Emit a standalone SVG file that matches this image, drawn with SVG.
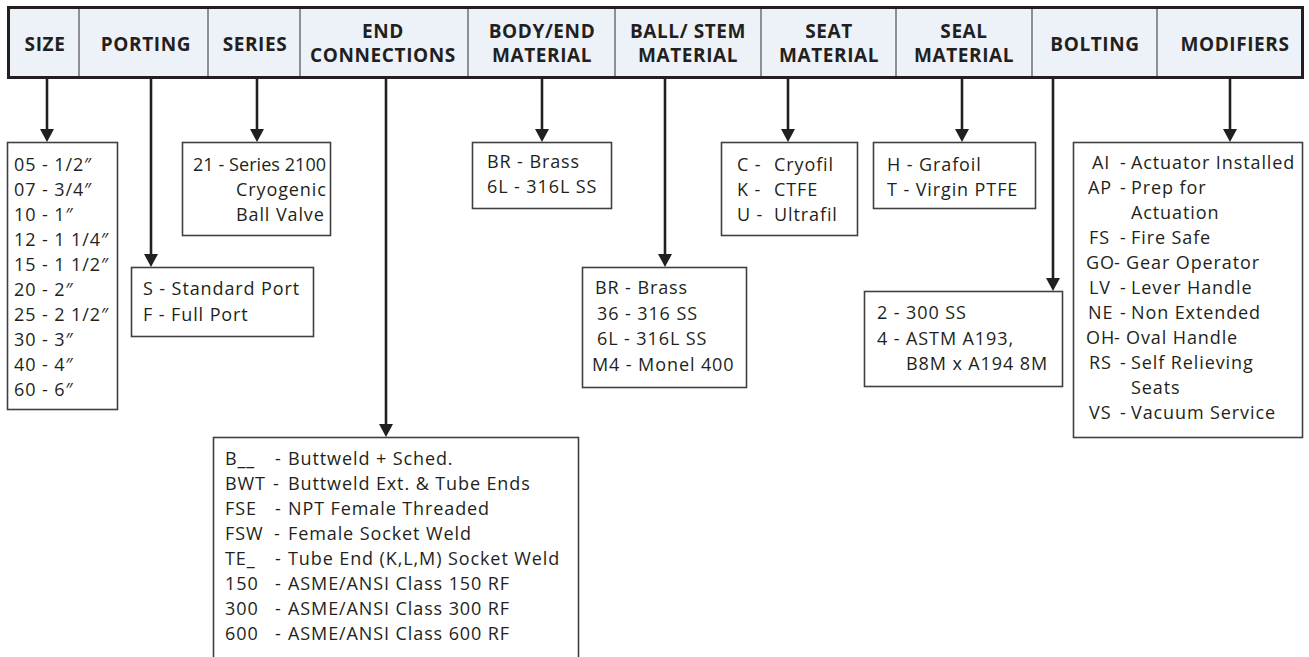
<svg xmlns="http://www.w3.org/2000/svg" width="1309" height="657" viewBox="0 0 1309 657">
<style>
.hd{font-family:"Open Sans","Liberation Sans",sans-serif;font-weight:bold;font-size:19px;letter-spacing:0.6px;fill:#231f20;text-anchor:middle}
.tx{font-family:"Open Sans","Liberation Sans",sans-serif;font-size:18px;letter-spacing:0.9px;fill:#231f20}
.box{fill:#fff;stroke:#404041;stroke-width:1.6}
.div{stroke:#6d6e71;stroke-width:1.5}
.con{stroke:#231f20;stroke-width:2.6;fill:none}
</style>
<defs>
<marker id="ah" markerUnits="userSpaceOnUse" markerWidth="13" markerHeight="14" viewBox="0 0 13 14" refX="3" refY="7" orient="auto">
<path d="M0,0 L13,7 L0,14 Z" fill="#231f20"/>
</marker>
</defs>
<rect width="1309" height="657" fill="#fff"/>
<g id="header">
<rect x="8.5" y="7.5" width="1294" height="70" fill="#edf1f8" stroke="#231f20" stroke-width="3"/>
<line class="div" x1="79" y1="9" x2="79" y2="76"/>
<line class="div" x1="208" y1="9" x2="208" y2="76"/>
<line class="div" x1="300" y1="9" x2="300" y2="76"/>
<line class="div" x1="468" y1="9" x2="468" y2="76"/>
<line class="div" x1="615" y1="9" x2="615" y2="76"/>
<line class="div" x1="761" y1="9" x2="761" y2="76"/>
<line class="div" x1="896" y1="9" x2="896" y2="76"/>
<line class="div" x1="1032" y1="9" x2="1032" y2="76"/>
<line class="div" x1="1157" y1="9" x2="1157" y2="76"/>
<text class="hd" x="45" y="51">SIZE</text>
<text class="hd" x="146" y="51">PORTING</text>
<text class="hd" x="255" y="51">SERIES</text>
<text class="hd" x="383" y="38">END</text>
<text class="hd" x="383" y="62">CONNECTIONS</text>
<text class="hd" x="542" y="38">BODY/END</text>
<text class="hd" x="542" y="62">MATERIAL</text>
<text class="hd" x="688" y="38">BALL/ STEM</text>
<text class="hd" x="688" y="62">MATERIAL</text>
<text class="hd" x="829" y="38">SEAT</text>
<text class="hd" x="829" y="62">MATERIAL</text>
<text class="hd" x="964" y="38">SEAL</text>
<text class="hd" x="964" y="62">MATERIAL</text>
<text class="hd" x="1095" y="51">BOLTING</text>
<text class="hd" x="1235" y="51">MODIFIERS</text>
</g>
<g id="connectors">
<line class="con" x1="47" y1="78" x2="47" y2="132" marker-end="url(#ah)"/>
<line class="con" x1="151" y1="78" x2="151" y2="257" marker-end="url(#ah)"/>
<line class="con" x1="257" y1="78" x2="257" y2="132" marker-end="url(#ah)"/>
<line class="con" x1="386" y1="78" x2="386" y2="427" marker-end="url(#ah)"/>
<line class="con" x1="542" y1="78" x2="542" y2="132" marker-end="url(#ah)"/>
<line class="con" x1="665" y1="78" x2="665" y2="257" marker-end="url(#ah)"/>
<line class="con" x1="788" y1="78" x2="788" y2="132" marker-end="url(#ah)"/>
<line class="con" x1="962" y1="78" x2="962" y2="132" marker-end="url(#ah)"/>
<line class="con" x1="1053" y1="78" x2="1053" y2="281" marker-end="url(#ah)"/>
<line class="con" x1="1230" y1="78" x2="1230" y2="132" marker-end="url(#ah)"/>
</g>
<g id="size">
<rect class="box" x="7.5" y="142.5" width="110" height="267"/>
<text class="tx" x="14" y="171">05 - 1/2″</text>
<text class="tx" x="14" y="196">07 - 3/4″</text>
<text class="tx" x="14" y="221">10 - 1″</text>
<text class="tx" x="14" y="246">12 - 1 1/4″</text>
<text class="tx" x="14" y="271">15 - 1 1/2″</text>
<text class="tx" x="14" y="296">20 - 2″</text>
<text class="tx" x="14" y="321">25 - 2 1/2″</text>
<text class="tx" x="14" y="346">30 - 3″</text>
<text class="tx" x="14" y="371">40 - 4″</text>
<text class="tx" x="14" y="396">60 - 6″</text>
</g>
<g id="porting">
<rect class="box" x="131.5" y="267.5" width="182" height="69"/>
<text class="tx" x="143" y="295">S - Standard Port</text>
<text class="tx" x="143" y="321">F - Full Port</text>
</g>
<g id="series">
<rect class="box" x="182.5" y="142.5" width="148" height="93"/>
<text class="tx" x="193" y="171" textLength="134" lengthAdjust="spacing">21 - Series 2100</text>
<text class="tx" x="236" y="196">Cryogenic</text>
<text class="tx" x="236" y="221">Ball Valve</text>
</g>
<g id="end-connections">
<rect class="box" x="213.5" y="437.5" width="365" height="240"/>
<text class="tx" y="465"><tspan x="225">B__</tspan><tspan x="275">-</tspan><tspan x="288">Buttweld + Sched.</tspan></text>
<text class="tx" y="490"><tspan x="225">BWT</tspan><tspan x="273">-</tspan><tspan x="288">Buttweld Ext. &amp; Tube Ends</tspan></text>
<text class="tx" y="515"><tspan x="225">FSE</tspan><tspan x="275">-</tspan><tspan x="288">NPT Female Threaded</tspan></text>
<text class="tx" y="540"><tspan x="225">FSW</tspan><tspan x="274">-</tspan><tspan x="288">Female Socket Weld</tspan></text>
<text class="tx" y="565"><tspan x="225">TE_</tspan><tspan x="275">-</tspan><tspan x="288">Tube End (K,L,M) Socket Weld</tspan></text>
<text class="tx" y="590"><tspan x="225">150</tspan><tspan x="275">-</tspan><tspan x="288">ASME/ANSI Class 150 RF</tspan></text>
<text class="tx" y="615"><tspan x="225">300</tspan><tspan x="275">-</tspan><tspan x="288">ASME/ANSI Class 300 RF</tspan></text>
<text class="tx" y="640"><tspan x="225">600</tspan><tspan x="275">-</tspan><tspan x="288">ASME/ANSI Class 600 RF</tspan></text>
</g>
<g id="body-end-material">
<rect class="box" x="472.5" y="142.5" width="139" height="66"/>
<text class="tx" x="487" y="168">BR - Brass</text>
<text class="tx" x="487" y="193">6L - 316L SS</text>
</g>
<g id="ball-stem-material">
<rect class="box" x="582.5" y="267.5" width="164" height="120"/>
<text class="tx" x="595" y="294">BR - Brass</text>
<text class="tx" x="597" y="320">36 - 316 SS</text>
<text class="tx" x="597" y="345">6L - 316L SS</text>
<text class="tx" x="592" y="371">M4 - Monel 400</text>
</g>
<g id="seat-material">
<rect class="box" x="721.5" y="142.5" width="136" height="93"/>
<text class="tx" y="171"><tspan x="737">C -</tspan><tspan x="774">Cryofil</tspan></text>
<text class="tx" y="196"><tspan x="737">K -</tspan><tspan x="774">CTFE</tspan></text>
<text class="tx" y="221"><tspan x="737">U -</tspan><tspan x="774">Ultrafil</tspan></text>
</g>
<g id="seal-material">
<rect class="box" x="873.5" y="142.5" width="162" height="66"/>
<text class="tx" x="887" y="171">H - Grafoil</text>
<text class="tx" x="887" y="196">T - Virgin PTFE</text>
</g>
<g id="bolting">
<rect class="box" x="864.5" y="291.5" width="198" height="95"/>
<text class="tx" x="877" y="319">2 - 300 SS</text>
<text class="tx" x="877" y="345">4 - ASTM A193,</text>
<text class="tx" x="906" y="370">B8M x A194 8M</text>
</g>
<g id="modifiers">
<rect class="box" x="1073.5" y="142.5" width="229" height="295"/>
<text class="tx" y="169"><tspan x="1092">AI</tspan><tspan x="1120">-</tspan><tspan x="1131">Actuator Installed</tspan></text>
<text class="tx" y="194"><tspan x="1088">AP</tspan><tspan x="1120">-</tspan><tspan x="1131">Prep for</tspan></text>
<text class="tx" x="1131" y="219">Actuation</text>
<text class="tx" y="244"><tspan x="1089">FS</tspan><tspan x="1120">-</tspan><tspan x="1131">Fire Safe</tspan></text>
<text class="tx" y="269"><tspan x="1086">GO</tspan><tspan x="1114">-</tspan><tspan x="1126">Gear Operator</tspan></text>
<text class="tx" y="294"><tspan x="1089">LV</tspan><tspan x="1120">-</tspan><tspan x="1131">Lever Handle</tspan></text>
<text class="tx" y="319"><tspan x="1088">NE</tspan><tspan x="1120">-</tspan><tspan x="1131">Non Extended</tspan></text>
<text class="tx" y="344"><tspan x="1086">OH</tspan><tspan x="1114">-</tspan><tspan x="1126">Oval Handle</tspan></text>
<text class="tx" y="369"><tspan x="1089">RS</tspan><tspan x="1120">-</tspan><tspan x="1131">Self Relieving</tspan></text>
<text class="tx" x="1131" y="394">Seats</text>
<text class="tx" y="419"><tspan x="1089">VS</tspan><tspan x="1120">-</tspan><tspan x="1131">Vacuum Service</tspan></text>
</g>
</svg>
